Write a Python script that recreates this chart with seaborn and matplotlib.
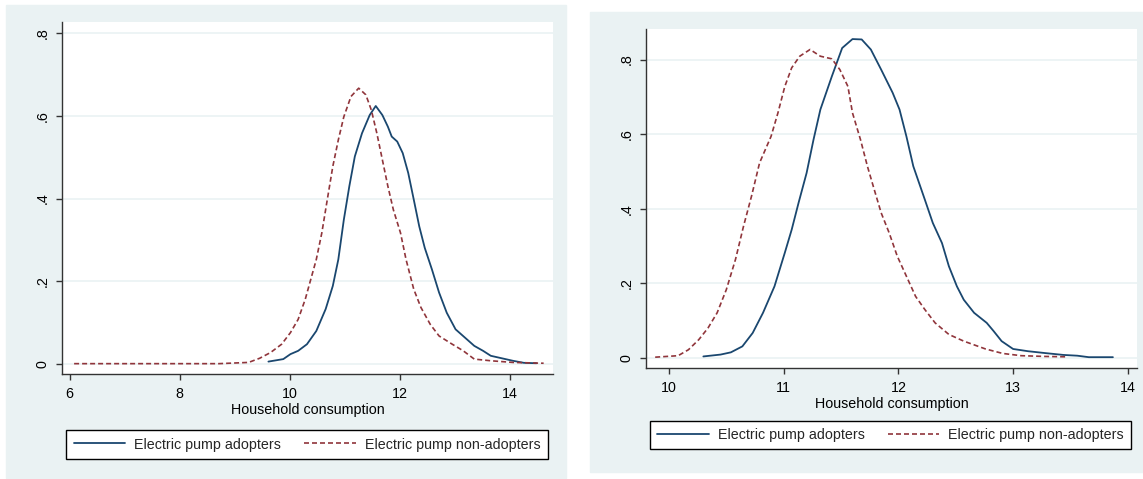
import matplotlib
matplotlib.use("Agg")
import matplotlib.pyplot as plt
import seaborn as sns
from matplotlib.patches import Rectangle

sns.set_theme(style="white")
plt.rcParams['font.family'] = ['Liberation Sans', 'DejaVu Sans']

# ---- data ----
# left panel
left_adopt_x = [9.61, 9.88, 10.01, 10.15, 10.31, 10.48, 10.65, 10.78, 10.88, 10.98,
                11.08, 11.18, 11.31, 11.45, 11.56, 11.68, 11.78, 11.85, 11.95, 12.05,
                12.15, 12.25, 12.35, 12.45, 12.58, 12.71, 12.85, 13.01, 13.18, 13.35,
                13.51, 13.65, 13.85, 14.05, 14.25, 14.48]
left_adopt_y = [0.006, 0.012, 0.024, 0.032, 0.048, 0.080, 0.133, 0.189, 0.253, 0.349,
                0.430, 0.502, 0.558, 0.602, 0.624, 0.602, 0.574, 0.550, 0.538, 0.510,
                0.462, 0.398, 0.333, 0.281, 0.229, 0.173, 0.124, 0.084, 0.064, 0.044,
                0.032, 0.020, 0.014, 0.008, 0.003, 0.002]
left_non_x = [6.08, 7.0, 8.0, 8.71, 9.25, 9.45, 9.65, 9.85, 10.01, 10.15,
              10.28, 10.38, 10.48, 10.58, 10.68, 10.78, 10.88, 10.98, 11.11, 11.25,
              11.38, 11.48, 11.58, 11.68, 11.78, 11.88, 12.01, 12.11, 12.25, 12.38,
              12.55, 12.71, 12.95, 13.15, 13.35, 13.65, 14.05, 14.61]
left_non_y = [0.001, 0.001, 0.001, 0.001, 0.004, 0.014, 0.028, 0.048, 0.076, 0.108,
              0.157, 0.205, 0.253, 0.317, 0.398, 0.478, 0.542, 0.598, 0.647, 0.667,
              0.651, 0.614, 0.558, 0.494, 0.430, 0.373, 0.317, 0.253, 0.181, 0.137,
              0.096, 0.068, 0.048, 0.032, 0.012, 0.008, 0.004, 0.002]

# right panel
right_adopt_x = [10.30, 10.45, 10.54, 10.64, 10.73, 10.82, 10.92, 11.01, 11.07, 11.13,
                 11.20, 11.26, 11.32, 11.42, 11.51, 11.60, 11.68, 11.76, 11.85, 11.95,
                 12.01, 12.07, 12.13, 12.23, 12.30, 12.38, 12.44, 12.51, 12.57, 12.66,
                 12.77, 12.83, 12.90, 13.00, 13.13, 13.28, 13.44, 13.56, 13.66, 13.87]
right_adopt_y = [0.004, 0.009, 0.015, 0.031, 0.067, 0.121, 0.192, 0.282, 0.344, 0.416,
                 0.496, 0.585, 0.666, 0.755, 0.831, 0.855, 0.854, 0.827, 0.773, 0.711,
                 0.666, 0.594, 0.514, 0.425, 0.362, 0.308, 0.246, 0.192, 0.156, 0.121,
                 0.094, 0.072, 0.045, 0.024, 0.018, 0.013, 0.008, 0.006, 0.002, 0.002]
right_non_x = [9.88, 10.08, 10.17, 10.26, 10.34, 10.42, 10.50, 10.58, 10.65, 10.72,
               10.79, 10.89, 10.95, 11.01, 11.07, 11.14, 11.23, 11.32, 11.42, 11.49,
               11.56, 11.60, 11.67, 11.73, 11.79, 11.85, 11.92, 11.99, 12.07, 12.15,
               12.23, 12.32, 12.44, 12.57, 12.76, 12.91, 13.07, 13.28, 13.47]
right_non_y = [0.002, 0.006, 0.022, 0.049, 0.080, 0.121, 0.183, 0.264, 0.353, 0.434,
               0.523, 0.594, 0.657, 0.728, 0.778, 0.809, 0.827, 0.809, 0.802, 0.773,
               0.728, 0.657, 0.585, 0.514, 0.451, 0.389, 0.335, 0.273, 0.219, 0.165,
               0.130, 0.094, 0.063, 0.045, 0.024, 0.012, 0.006, 0.004, 0.003]

yticks = [0, 0.2, 0.4, 0.6, 0.8]
ytick_labels = ["0", ".2", ".4", ".6", ".8"]
left_xticks = [6, 8, 10, 12, 14]
right_xticks = [10, 11, 12, 13, 14]
xlabel = "Household consumption"
labels = ["Electric pump adopters", "Electric pump non-adopters"]

# Stata s2color look
navy = "#1A476F"
maroon = "#90353B"
region = "#EAF2F3"
fs = 10.3

W, H = 1143, 479
fig = plt.figure(figsize=(W / 100, H / 100), dpi=100)
fig.patch.set_facecolor("white")

# light graph regions behind each panel
fig.patches.append(Rectangle((6 / W, 1 - 478 / H), (566 - 6) / W, (478 - 5) / H,
                             transform=fig.transFigure, color=region, zorder=-5))
fig.patches.append(Rectangle((590 / W, 1 - 472 / H), (1143 - 590) / W, (472 - 12) / H,
                             transform=fig.transFigure, color=region, zorder=-5))

ax1 = fig.add_axes([62 / W, 1 - 374 / H, (553 - 62) / W, (374 - 22) / H])
ax2 = fig.add_axes([646 / W, 1 - 368 / H, (1137 - 646) / W, (368 - 29) / H])


def draw_panel(ax, ax_x, ax_y, an_x, an_y, xticks, xlim, ylim, leg_center):
    sns.lineplot(x=ax_x, y=ax_y, ax=ax, color=navy, linewidth=1.3, label=labels[0])
    sns.lineplot(x=an_x, y=an_y, ax=ax, color=maroon, linewidth=1.2,
                 linestyle=(0, (3, 1.8)), label=labels[1])
    ax.set_facecolor("white")
    ax.set_xlim(*xlim)
    ax.set_ylim(*ylim)
    ax.set_xticks(xticks)
    ax.set_xticklabels([str(t) for t in xticks], fontsize=fs)
    ax.set_yticks(yticks)
    ax.set_yticklabels(ytick_labels, fontsize=fs, rotation=90, va="center")
    ax.grid(axis="y", color=region, linewidth=1.2)
    ax.set_axisbelow(True)
    for s in ["top", "right"]:
        ax.spines[s].set_visible(False)
    for s in ["left", "bottom"]:
        ax.spines[s].set_color("#333333")
        ax.spines[s].set_linewidth(1.0)
    ax.tick_params(axis="both", direction="out", length=4, width=1.0,
                   color="#333333", labelcolor="black", pad=5,
                   left=True, bottom=True)
    ax.set_xlabel(xlabel, fontsize=fs, labelpad=1.5, color="black")
    ax.set_ylabel("")
    ax.get_legend().remove()
    h, l = ax.get_legend_handles_labels()
    leg = fig.legend(h, l, loc="center", bbox_to_anchor=leg_center, ncol=2,
                     fontsize=fs, frameon=True, fancybox=False, framealpha=1,
                     edgecolor="black", facecolor="white", handlelength=3.6,
                     handletextpad=0.65, columnspacing=1.6, borderpad=0.5)
    leg.get_frame().set_linewidth(1.0)


draw_panel(ax1, left_adopt_x, left_adopt_y, left_non_x, left_non_y,
           left_xticks, (5.86, 14.78), (-0.024, 0.827), (307 / W, 1 - 444.5 / H))
draw_panel(ax2, right_adopt_x, right_adopt_y, right_non_x, right_non_y,
           right_xticks, (9.80, 14.08), (-0.027, 0.882), (890.5 / W, 1 - 435 / H))

plt.savefig("out.png", dpi=100)
